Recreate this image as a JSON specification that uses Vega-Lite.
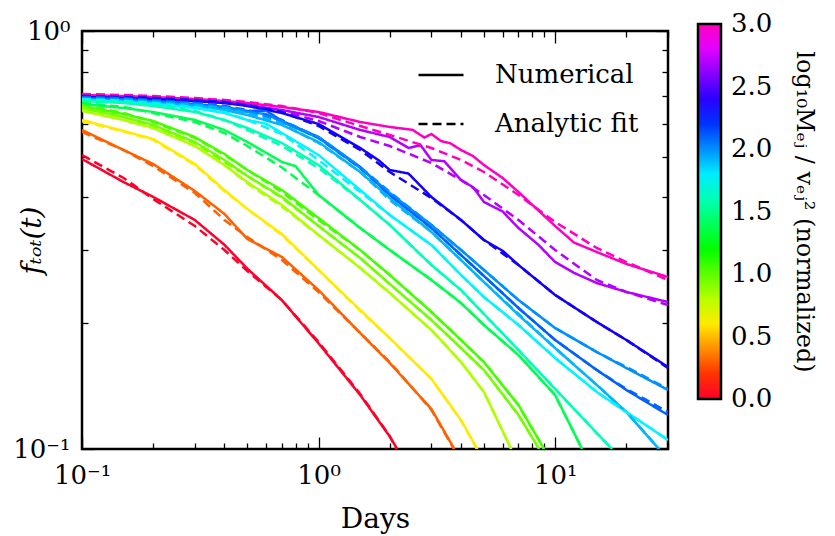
{
"$schema": "https://vega.github.io/schema/vega-lite/v6.json",
"width": 586, "height": 418,
"autosize": {"type": "none"},
"padding": {"left": 82, "top": 31, "right": 167, "bottom": 87},
"background": "white",
"config": {
 "view": {"stroke": "black", "strokeWidth": 2.5},
 "font": "DejaVu Serif",
 "axis": {"domain": false, "grid": false, "tickColor": "black", "labelColor": "black", "titleColor": "black", "labelFont": "DejaVu Serif", "titleFont": "DejaVu Serif", "tickWidth": 1.3},
 "legend": {"labelFont": "DejaVu Serif", "titleFont": "DejaVu Serif", "labelColor": "black", "titleColor": "black"}
},
"data": {"values": [
{"m":3,"kind":"Numerical","days":0.1,"f":0.7029},{"m":3,"kind":"Numerical","days":0.15,"f":0.699},{"m":3,"kind":"Numerical","days":0.2,"f":0.6952},{"m":3,"kind":"Numerical","days":0.3,"f":0.6876},{"m":3,"kind":"Numerical","days":0.4,"f":0.6801},{"m":3,"kind":"Numerical","days":0.5,"f":0.6726},{"m":3,"kind":"Numerical","days":0.7,"f":0.6579},{"m":3,"kind":"Numerical","days":1,"f":0.6401},{"m":3,"kind":"Numerical","days":1.5,"f":0.6058},{"m":3,"kind":"Numerical","days":2,"f":0.5893},{"m":3,"kind":"Numerical","days":2.5,"f":0.58},{"m":3,"kind":"Numerical","days":2.8,"f":0.5560},{"m":3,"kind":"Numerical","days":3,"f":0.567},{"m":3,"kind":"Numerical","days":3.3,"f":0.5450},{"m":3,"kind":"Numerical","days":3.6,"f":0.5390},{"m":3,"kind":"Numerical","days":4,"f":0.5192},{"m":3,"kind":"Numerical","days":4.5,"f":0.5020},{"m":3,"kind":"Numerical","days":5,"f":0.478},{"m":3,"kind":"Numerical","days":6,"f":0.4450},{"m":3,"kind":"Numerical","days":7,"f":0.4119},{"m":3,"kind":"Numerical","days":8.5,"f":0.3720},{"m":3,"kind":"Numerical","days":10,"f":0.3416},{"m":3,"kind":"Numerical","days":12,"f":0.3120},{"m":3,"kind":"Numerical","days":15,"f":0.296},{"m":3,"kind":"Numerical","days":20,"f":0.2771},{"m":3,"kind":"Numerical","days":30,"f":0.2579},
{"m":3,"kind":"Analytic fit","days":0.1,"f":0.7068},{"m":3,"kind":"Analytic fit","days":0.15,"f":0.7029},{"m":3,"kind":"Analytic fit","days":0.2,"f":0.699},{"m":3,"kind":"Analytic fit","days":0.3,"f":0.6914},{"m":3,"kind":"Analytic fit","days":0.4,"f":0.6838},{"m":3,"kind":"Analytic fit","days":0.5,"f":0.6763},{"m":3,"kind":"Analytic fit","days":0.7,"f":0.6616},{"m":3,"kind":"Analytic fit","days":1,"f":0.6365},{"m":3,"kind":"Analytic fit","days":1.5,"f":0.5926},{"m":3,"kind":"Analytic fit","days":2,"f":0.5639},{"m":3,"kind":"Analytic fit","days":3,"f":0.5249},{"m":3,"kind":"Analytic fit","days":4,"f":0.4914},{"m":3,"kind":"Analytic fit","days":5,"f":0.4599},{"m":3,"kind":"Analytic fit","days":7,"f":0.4052},{"m":3,"kind":"Analytic fit","days":10,"f":0.3492},{"m":3,"kind":"Analytic fit","days":15,"f":0.3026},{"m":3,"kind":"Analytic fit","days":20,"f":0.2801},{"m":3,"kind":"Analytic fit","days":30,"f":0.2537},
{"m":2.7,"kind":"Numerical","days":0.1,"f":0.6952},{"m":2.7,"kind":"Numerical","days":0.15,"f":0.6914},{"m":2.7,"kind":"Numerical","days":0.2,"f":0.6876},{"m":2.7,"kind":"Numerical","days":0.3,"f":0.6801},{"m":2.7,"kind":"Numerical","days":0.4,"f":0.6726},{"m":2.7,"kind":"Numerical","days":0.5,"f":0.6652},{"m":2.7,"kind":"Numerical","days":0.7,"f":0.6471},{"m":2.7,"kind":"Numerical","days":1,"f":0.6227},{"m":2.7,"kind":"Numerical","days":1.5,"f":0.5797},{"m":2.7,"kind":"Numerical","days":2,"f":0.5577},{"m":2.7,"kind":"Numerical","days":2.4,"f":0.5250},{"m":2.7,"kind":"Numerical","days":2.7,"f":0.5330},{"m":2.7,"kind":"Numerical","days":3,"f":0.4914},{"m":2.7,"kind":"Numerical","days":3.4,"f":0.4880},{"m":2.7,"kind":"Numerical","days":4,"f":0.4401},{"m":2.7,"kind":"Numerical","days":4.5,"f":0.4230},{"m":2.7,"kind":"Numerical","days":5,"f":0.3899},{"m":2.7,"kind":"Numerical","days":6,"f":0.3700},{"m":2.7,"kind":"Numerical","days":7,"f":0.3378},{"m":2.7,"kind":"Numerical","days":8.5,"f":0.3080},{"m":2.7,"kind":"Numerical","days":10,"f":0.2801},{"m":2.7,"kind":"Numerical","days":12,"f":0.2640},{"m":2.7,"kind":"Numerical","days":15,"f":0.2495},{"m":2.7,"kind":"Numerical","days":20,"f":0.2375},{"m":2.7,"kind":"Numerical","days":30,"f":0.2247},
{"m":2.7,"kind":"Analytic fit","days":0.1,"f":0.699},{"m":2.7,"kind":"Analytic fit","days":0.15,"f":0.6952},{"m":2.7,"kind":"Analytic fit","days":0.2,"f":0.6914},{"m":2.7,"kind":"Analytic fit","days":0.3,"f":0.6838},{"m":2.7,"kind":"Analytic fit","days":0.4,"f":0.6763},{"m":2.7,"kind":"Analytic fit","days":0.5,"f":0.6652},{"m":2.7,"kind":"Analytic fit","days":0.7,"f":0.6436},{"m":2.7,"kind":"Analytic fit","days":1,"f":0.6091},{"m":2.7,"kind":"Analytic fit","days":1.5,"f":0.5577},{"m":2.7,"kind":"Analytic fit","days":2,"f":0.5307},{"m":2.7,"kind":"Analytic fit","days":3,"f":0.4833},{"m":2.7,"kind":"Analytic fit","days":4,"f":0.4401},{"m":2.7,"kind":"Analytic fit","days":5,"f":0.4052},{"m":2.7,"kind":"Analytic fit","days":7,"f":0.3531},{"m":2.7,"kind":"Analytic fit","days":10,"f":0.2993},{"m":2.7,"kind":"Analytic fit","days":15,"f":0.2537},{"m":2.7,"kind":"Analytic fit","days":20,"f":0.2375},{"m":2.7,"kind":"Analytic fit","days":30,"f":0.2211},
{"m":2.35,"kind":"Numerical","days":0.1,"f":0.6952},{"m":2.35,"kind":"Numerical","days":0.15,"f":0.6914},{"m":2.35,"kind":"Numerical","days":0.2,"f":0.6876},{"m":2.35,"kind":"Numerical","days":0.3,"f":0.6801},{"m":2.35,"kind":"Numerical","days":0.4,"f":0.6726},{"m":2.35,"kind":"Numerical","days":0.5,"f":0.6616},{"m":2.35,"kind":"Numerical","days":0.7,"f":0.6365},{"m":2.35,"kind":"Numerical","days":1,"f":0.5991},{"m":2.35,"kind":"Numerical","days":1.5,"f":0.5249},{"m":2.35,"kind":"Numerical","days":1.8,"f":0.4900},{"m":2.35,"kind":"Numerical","days":2,"f":0.465},{"m":2.35,"kind":"Numerical","days":2.4,"f":0.4560},{"m":2.35,"kind":"Numerical","days":3,"f":0.4007},{"m":2.35,"kind":"Numerical","days":4,"f":0.3531},{"m":2.35,"kind":"Numerical","days":5,"f":0.3162},{"m":2.35,"kind":"Numerical","days":6,"f":0.2980},{"m":2.35,"kind":"Numerical","days":7,"f":0.2755},{"m":2.35,"kind":"Numerical","days":10,"f":0.2336},{"m":2.35,"kind":"Numerical","days":15,"f":0.2013},{"m":2.35,"kind":"Numerical","days":20,"f":0.1823},{"m":2.35,"kind":"Numerical","days":30,"f":0.1571},
{"m":2.35,"kind":"Analytic fit","days":0.1,"f":0.699},{"m":2.35,"kind":"Analytic fit","days":0.15,"f":0.6952},{"m":2.35,"kind":"Analytic fit","days":0.2,"f":0.6914},{"m":2.35,"kind":"Analytic fit","days":0.3,"f":0.6838},{"m":2.35,"kind":"Analytic fit","days":0.4,"f":0.6763},{"m":2.35,"kind":"Analytic fit","days":0.5,"f":0.6652},{"m":2.35,"kind":"Analytic fit","days":0.7,"f":0.6401},{"m":2.35,"kind":"Analytic fit","days":1,"f":0.5926},{"m":2.35,"kind":"Analytic fit","days":1.5,"f":0.5192},{"m":2.35,"kind":"Analytic fit","days":2,"f":0.4599},{"m":2.35,"kind":"Analytic fit","days":3,"f":0.3985},{"m":2.35,"kind":"Analytic fit","days":4,"f":0.3531},{"m":2.35,"kind":"Analytic fit","days":5,"f":0.3162},{"m":2.35,"kind":"Analytic fit","days":7,"f":0.2755},{"m":2.35,"kind":"Analytic fit","days":10,"f":0.2336},{"m":2.35,"kind":"Analytic fit","days":15,"f":0.2013},{"m":2.35,"kind":"Analytic fit","days":20,"f":0.1823},{"m":2.35,"kind":"Analytic fit","days":30,"f":0.1562},
{"m":2.1,"kind":"Numerical","days":0.1,"f":0.6914},{"m":2.1,"kind":"Numerical","days":0.15,"f":0.6876},{"m":2.1,"kind":"Numerical","days":0.2,"f":0.6801},{"m":2.1,"kind":"Numerical","days":0.3,"f":0.6689},{"m":2.1,"kind":"Numerical","days":0.4,"f":0.6579},{"m":2.1,"kind":"Numerical","days":0.5,"f":0.6436},{"m":2.1,"kind":"Numerical","days":0.6,"f":0.6450},{"m":2.1,"kind":"Numerical","days":0.7,"f":0.6091},{"m":2.1,"kind":"Numerical","days":1,"f":0.5577},{"m":2.1,"kind":"Numerical","days":1.5,"f":0.4728},{"m":2.1,"kind":"Numerical","days":2,"f":0.4052},{"m":2.1,"kind":"Numerical","days":3,"f":0.3378},{"m":2.1,"kind":"Numerical","days":4,"f":0.2911},{"m":2.1,"kind":"Numerical","days":5,"f":0.2594},{"m":2.1,"kind":"Numerical","days":7,"f":0.2174},{"m":2.1,"kind":"Numerical","days":10,"f":0.1823},{"m":2.1,"kind":"Numerical","days":15,"f":0.1545},{"m":2.1,"kind":"Numerical","days":20,"f":0.1384},{"m":2.1,"kind":"Numerical","days":30,"f":0.1206},
{"m":2.1,"kind":"Analytic fit","days":0.1,"f":0.6952},{"m":2.1,"kind":"Analytic fit","days":0.15,"f":0.6914},{"m":2.1,"kind":"Analytic fit","days":0.2,"f":0.6838},{"m":2.1,"kind":"Analytic fit","days":0.3,"f":0.6726},{"m":2.1,"kind":"Analytic fit","days":0.4,"f":0.6616},{"m":2.1,"kind":"Analytic fit","days":0.5,"f":0.6471},{"m":2.1,"kind":"Analytic fit","days":0.7,"f":0.6125},{"m":2.1,"kind":"Analytic fit","days":1,"f":0.5547},{"m":2.1,"kind":"Analytic fit","days":1.5,"f":0.4702},{"m":2.1,"kind":"Analytic fit","days":2,"f":0.4052},{"m":2.1,"kind":"Analytic fit","days":3,"f":0.3378},{"m":2.1,"kind":"Analytic fit","days":4,"f":0.2911},{"m":2.1,"kind":"Analytic fit","days":5,"f":0.2594},{"m":2.1,"kind":"Analytic fit","days":7,"f":0.2174},{"m":2.1,"kind":"Analytic fit","days":10,"f":0.1823},{"m":2.1,"kind":"Analytic fit","days":15,"f":0.1545},{"m":2.1,"kind":"Analytic fit","days":20,"f":0.1392},{"m":2.1,"kind":"Analytic fit","days":30,"f":0.1226},
{"m":2,"kind":"Numerical","days":0.1,"f":0.6876},{"m":2,"kind":"Numerical","days":0.15,"f":0.6838},{"m":2,"kind":"Numerical","days":0.2,"f":0.6763},{"m":2,"kind":"Numerical","days":0.3,"f":0.6652},{"m":2,"kind":"Numerical","days":0.4,"f":0.6543},{"m":2,"kind":"Numerical","days":0.5,"f":0.6401},{"m":2,"kind":"Numerical","days":0.6,"f":0.6330},{"m":2,"kind":"Numerical","days":0.7,"f":0.6058},{"m":2,"kind":"Numerical","days":1,"f":0.5547},{"m":2,"kind":"Numerical","days":1.5,"f":0.4702},{"m":2,"kind":"Numerical","days":2,"f":0.4097},{"m":2,"kind":"Numerical","days":3,"f":0.3435},{"m":2,"kind":"Numerical","days":4,"f":0.2993},{"m":2,"kind":"Numerical","days":5,"f":0.2681},{"m":2,"kind":"Numerical","days":7,"f":0.2272},{"m":2,"kind":"Numerical","days":10,"f":0.1947},{"m":2,"kind":"Numerical","days":15,"f":0.1706},{"m":2,"kind":"Numerical","days":20,"f":0.1562},{"m":2,"kind":"Numerical","days":30,"f":0.1384},
{"m":2,"kind":"Analytic fit","days":0.1,"f":0.6914},{"m":2,"kind":"Analytic fit","days":0.15,"f":0.6876},{"m":2,"kind":"Analytic fit","days":0.2,"f":0.6801},{"m":2,"kind":"Analytic fit","days":0.3,"f":0.6689},{"m":2,"kind":"Analytic fit","days":0.4,"f":0.6579},{"m":2,"kind":"Analytic fit","days":0.5,"f":0.6436},{"m":2,"kind":"Analytic fit","days":0.7,"f":0.6091},{"m":2,"kind":"Analytic fit","days":1,"f":0.5577},{"m":2,"kind":"Analytic fit","days":1.5,"f":0.4728},{"m":2,"kind":"Analytic fit","days":2,"f":0.4119},{"m":2,"kind":"Analytic fit","days":3,"f":0.3435},{"m":2,"kind":"Analytic fit","days":4,"f":0.2993},{"m":2,"kind":"Analytic fit","days":5,"f":0.2681},{"m":2,"kind":"Analytic fit","days":7,"f":0.2272},{"m":2,"kind":"Analytic fit","days":10,"f":0.1947},{"m":2,"kind":"Analytic fit","days":15,"f":0.1706},{"m":2,"kind":"Analytic fit","days":20,"f":0.1571},{"m":2,"kind":"Analytic fit","days":30,"f":0.1392},
{"m":1.92,"kind":"Numerical","days":0.1,"f":0.6838},{"m":1.92,"kind":"Numerical","days":0.15,"f":0.6801},{"m":1.92,"kind":"Numerical","days":0.2,"f":0.6726},{"m":1.92,"kind":"Numerical","days":0.3,"f":0.6616},{"m":1.92,"kind":"Numerical","days":0.4,"f":0.6471},{"m":1.92,"kind":"Numerical","days":0.5,"f":0.6296},{"m":1.92,"kind":"Numerical","days":0.7,"f":0.5958},{"m":1.92,"kind":"Numerical","days":1,"f":0.5426},{"m":1.92,"kind":"Numerical","days":1.5,"f":0.4599},{"m":1.92,"kind":"Numerical","days":2,"f":0.3985},{"m":1.92,"kind":"Numerical","days":3,"f":0.3305},{"m":1.92,"kind":"Numerical","days":4,"f":0.2832},{"m":1.92,"kind":"Numerical","days":5,"f":0.2509},{"m":1.92,"kind":"Numerical","days":7,"f":0.2092},{"m":1.92,"kind":"Numerical","days":10,"f":0.1744},{"m":1.92,"kind":"Numerical","days":15,"f":0.1423},{"m":1.92,"kind":"Numerical","days":20,"f":0.1226},{"m":1.92,"kind":"Numerical","days":27.5,"f":0.1},
{"m":1.92,"kind":"Analytic fit","days":0.1,"f":0.6876},{"m":1.92,"kind":"Analytic fit","days":0.15,"f":0.6838},{"m":1.92,"kind":"Analytic fit","days":0.2,"f":0.6763},{"m":1.92,"kind":"Analytic fit","days":0.3,"f":0.6652},{"m":1.92,"kind":"Analytic fit","days":0.4,"f":0.6543},{"m":1.92,"kind":"Analytic fit","days":0.5,"f":0.6365},{"m":1.92,"kind":"Analytic fit","days":0.7,"f":0.5991},{"m":1.92,"kind":"Analytic fit","days":1,"f":0.5396},{"m":1.92,"kind":"Analytic fit","days":1.5,"f":0.4599},{"m":1.92,"kind":"Analytic fit","days":2,"f":0.3942},{"m":1.92,"kind":"Analytic fit","days":3,"f":0.3305},{"m":1.92,"kind":"Analytic fit","days":4,"f":0.2832},{"m":1.92,"kind":"Analytic fit","days":5,"f":0.2509},{"m":1.92,"kind":"Analytic fit","days":7,"f":0.2104},{"m":1.92,"kind":"Analytic fit","days":10,"f":0.1744},{"m":1.92,"kind":"Analytic fit","days":15,"f":0.1423},{"m":1.92,"kind":"Analytic fit","days":20,"f":0.1226},{"m":1.92,"kind":"Analytic fit","days":27.5,"f":0.1},
{"m":1.78,"kind":"Numerical","days":0.1,"f":0.6838},{"m":1.78,"kind":"Numerical","days":0.15,"f":0.6763},{"m":1.78,"kind":"Numerical","days":0.2,"f":0.6689},{"m":1.78,"kind":"Numerical","days":0.3,"f":0.6543},{"m":1.78,"kind":"Numerical","days":0.4,"f":0.6365},{"m":1.78,"kind":"Numerical","days":0.5,"f":0.6125},{"m":1.78,"kind":"Numerical","days":0.6,"f":0.6000},{"m":1.78,"kind":"Numerical","days":0.7,"f":0.5701},{"m":1.78,"kind":"Numerical","days":1,"f":0.5051},{"m":1.78,"kind":"Numerical","days":1.5,"f":0.4165},{"m":1.78,"kind":"Numerical","days":2,"f":0.3629},{"m":1.78,"kind":"Numerical","days":3,"f":0.3076},{"m":1.78,"kind":"Numerical","days":4,"f":0.2608},{"m":1.78,"kind":"Numerical","days":5,"f":0.231},{"m":1.78,"kind":"Numerical","days":7,"f":0.198},{"m":1.78,"kind":"Numerical","days":10,"f":0.1651},{"m":1.78,"kind":"Numerical","days":15,"f":0.1369},{"m":1.78,"kind":"Numerical","days":20,"f":0.1226},{"m":1.78,"kind":"Numerical","days":30,"f":0.1051},
{"m":1.78,"kind":"Analytic fit","days":0.1,"f":0.6876},{"m":1.78,"kind":"Analytic fit","days":0.15,"f":0.6801},{"m":1.78,"kind":"Analytic fit","days":0.2,"f":0.6726},{"m":1.78,"kind":"Analytic fit","days":0.3,"f":0.6579},{"m":1.78,"kind":"Analytic fit","days":0.4,"f":0.6401},{"m":1.78,"kind":"Analytic fit","days":0.5,"f":0.6125},{"m":1.78,"kind":"Analytic fit","days":0.7,"f":0.567},{"m":1.78,"kind":"Analytic fit","days":1,"f":0.4914},{"m":1.78,"kind":"Analytic fit","days":1.5,"f":0.4119},{"m":1.78,"kind":"Analytic fit","days":2,"f":0.3629},{"m":1.78,"kind":"Analytic fit","days":3,"f":0.3076},{"m":1.78,"kind":"Analytic fit","days":4,"f":0.2608},{"m":1.78,"kind":"Analytic fit","days":5,"f":0.231},{"m":1.78,"kind":"Analytic fit","days":7,"f":0.198},{"m":1.78,"kind":"Analytic fit","days":10,"f":0.1651},{"m":1.78,"kind":"Analytic fit","days":15,"f":0.1369},{"m":1.78,"kind":"Analytic fit","days":20,"f":0.1226},{"m":1.78,"kind":"Analytic fit","days":30,"f":0.1051},
{"m":1.6,"kind":"Numerical","days":0.1,"f":0.6801},{"m":1.6,"kind":"Numerical","days":0.15,"f":0.6726},{"m":1.6,"kind":"Numerical","days":0.2,"f":0.6616},{"m":1.6,"kind":"Numerical","days":0.3,"f":0.6401},{"m":1.6,"kind":"Numerical","days":0.4,"f":0.6125},{"m":1.6,"kind":"Numerical","days":0.5,"f":0.5861},{"m":1.6,"kind":"Numerical","days":0.7,"f":0.5396},{"m":1.6,"kind":"Numerical","days":1,"f":0.478},{"m":1.6,"kind":"Numerical","days":1.5,"f":0.3942},{"m":1.6,"kind":"Numerical","days":2,"f":0.3435},{"m":1.6,"kind":"Numerical","days":3,"f":0.2755},{"m":1.6,"kind":"Numerical","days":4,"f":0.2401},{"m":1.6,"kind":"Numerical","days":5,"f":0.2104},{"m":1.6,"kind":"Numerical","days":7,"f":0.1725},{"m":1.6,"kind":"Numerical","days":10,"f":0.1392},{"m":1.6,"kind":"Numerical","days":15,"f":0.1092},{"m":1.6,"kind":"Numerical","days":17.4,"f":0.1},
{"m":1.6,"kind":"Analytic fit","days":0.1,"f":0.6838},{"m":1.6,"kind":"Analytic fit","days":0.15,"f":0.6763},{"m":1.6,"kind":"Analytic fit","days":0.2,"f":0.6652},{"m":1.6,"kind":"Analytic fit","days":0.3,"f":0.6436},{"m":1.6,"kind":"Analytic fit","days":0.4,"f":0.6125},{"m":1.6,"kind":"Analytic fit","days":0.5,"f":0.5797},{"m":1.6,"kind":"Analytic fit","days":0.7,"f":0.5307},{"m":1.6,"kind":"Analytic fit","days":1,"f":0.4702},{"m":1.6,"kind":"Analytic fit","days":1.5,"f":0.3942},{"m":1.6,"kind":"Analytic fit","days":2,"f":0.3435},{"m":1.6,"kind":"Analytic fit","days":3,"f":0.2755},{"m":1.6,"kind":"Analytic fit","days":4,"f":0.2401},{"m":1.6,"kind":"Analytic fit","days":5,"f":0.2104},{"m":1.6,"kind":"Analytic fit","days":7,"f":0.1725},{"m":1.6,"kind":"Analytic fit","days":10,"f":0.1392},{"m":1.6,"kind":"Analytic fit","days":15,"f":0.1092},{"m":1.6,"kind":"Analytic fit","days":17.4,"f":0.1},
{"m":1.38,"kind":"Numerical","days":0.1,"f":0.6689},{"m":1.38,"kind":"Numerical","days":0.15,"f":0.6543},{"m":1.38,"kind":"Numerical","days":0.2,"f":0.6401},{"m":1.38,"kind":"Numerical","days":0.3,"f":0.6125},{"m":1.38,"kind":"Numerical","days":0.4,"f":0.5797},{"m":1.38,"kind":"Numerical","days":0.5,"f":0.5426},{"m":1.38,"kind":"Numerical","days":0.7,"f":0.486},{"m":1.38,"kind":"Numerical","days":0.8,"f":0.4750},{"m":1.38,"kind":"Numerical","days":1,"f":0.4052},{"m":1.38,"kind":"Numerical","days":1.5,"f":0.3378},{"m":1.38,"kind":"Numerical","days":2,"f":0.2993},{"m":1.38,"kind":"Numerical","days":3,"f":0.2537},{"m":1.38,"kind":"Numerical","days":4,"f":0.2235},{"m":1.38,"kind":"Numerical","days":5,"f":0.198},{"m":1.38,"kind":"Numerical","days":7,"f":0.1678},{"m":1.38,"kind":"Numerical","days":10,"f":0.1346},{"m":1.38,"kind":"Numerical","days":13,"f":0.1},
{"m":1.38,"kind":"Analytic fit","days":0.1,"f":0.6726},{"m":1.38,"kind":"Analytic fit","days":0.15,"f":0.6579},{"m":1.38,"kind":"Analytic fit","days":0.2,"f":0.6365},{"m":1.38,"kind":"Analytic fit","days":0.3,"f":0.6058},{"m":1.38,"kind":"Analytic fit","days":0.4,"f":0.5701},{"m":1.38,"kind":"Analytic fit","days":0.5,"f":0.5307},{"m":1.38,"kind":"Analytic fit","days":0.7,"f":0.4714},{"m":1.38,"kind":"Analytic fit","days":1,"f":0.4052},{"m":1.38,"kind":"Analytic fit","days":1.5,"f":0.3378},{"m":1.38,"kind":"Analytic fit","days":2,"f":0.2993},{"m":1.38,"kind":"Analytic fit","days":3,"f":0.2537},{"m":1.38,"kind":"Analytic fit","days":4,"f":0.2235},{"m":1.38,"kind":"Analytic fit","days":5,"f":0.198},{"m":1.38,"kind":"Analytic fit","days":7,"f":0.1678},{"m":1.38,"kind":"Analytic fit","days":10,"f":0.1346},{"m":1.38,"kind":"Analytic fit","days":13,"f":0.1},
{"m":1.05,"kind":"Numerical","days":0.1,"f":0.6616},{"m":1.05,"kind":"Numerical","days":0.15,"f":0.633},{"m":1.05,"kind":"Numerical","days":0.2,"f":0.6092},{"m":1.05,"kind":"Numerical","days":0.3,"f":0.5576},{"m":1.05,"kind":"Numerical","days":0.4,"f":0.5078},{"m":1.05,"kind":"Numerical","days":0.5,"f":0.465},{"m":1.05,"kind":"Numerical","days":0.7,"f":0.4165},{"m":1.05,"kind":"Numerical","days":1,"f":0.3569},{"m":1.05,"kind":"Numerical","days":1.5,"f":0.2992},{"m":1.05,"kind":"Numerical","days":2,"f":0.2608},{"m":1.05,"kind":"Numerical","days":3,"f":0.2127},{"m":1.05,"kind":"Numerical","days":4,"f":0.1823},{"m":1.05,"kind":"Numerical","days":5,"f":0.1615},{"m":1.05,"kind":"Numerical","days":7,"f":0.1274},{"m":1.05,"kind":"Numerical","days":8.98,"f":0.1},
{"m":1.05,"kind":"Analytic fit","days":0.1,"f":0.6652},{"m":1.05,"kind":"Analytic fit","days":0.15,"f":0.6365},{"m":1.05,"kind":"Analytic fit","days":0.2,"f":0.6058},{"m":1.05,"kind":"Analytic fit","days":0.3,"f":0.5547},{"m":1.05,"kind":"Analytic fit","days":0.4,"f":0.5051},{"m":1.05,"kind":"Analytic fit","days":0.5,"f":0.465},{"m":1.05,"kind":"Analytic fit","days":0.7,"f":0.4119},{"m":1.05,"kind":"Analytic fit","days":1,"f":0.3531},{"m":1.05,"kind":"Analytic fit","days":1.5,"f":0.2992},{"m":1.05,"kind":"Analytic fit","days":2,"f":0.2608},{"m":1.05,"kind":"Analytic fit","days":3,"f":0.2127},{"m":1.05,"kind":"Analytic fit","days":4,"f":0.1823},{"m":1.05,"kind":"Analytic fit","days":5,"f":0.1615},{"m":1.05,"kind":"Analytic fit","days":7,"f":0.1274},{"m":1.05,"kind":"Analytic fit","days":8.98,"f":0.1},
{"m":0.95,"kind":"Numerical","days":0.1,"f":0.6544},{"m":0.95,"kind":"Numerical","days":0.15,"f":0.6227},{"m":0.95,"kind":"Numerical","days":0.2,"f":0.5958},{"m":0.95,"kind":"Numerical","days":0.3,"f":0.5425},{"m":0.95,"kind":"Numerical","days":0.4,"f":0.4914},{"m":0.95,"kind":"Numerical","days":0.5,"f":0.4499},{"m":0.95,"kind":"Numerical","days":0.7,"f":0.401},{"m":0.95,"kind":"Numerical","days":1,"f":0.3416},{"m":0.95,"kind":"Numerical","days":1.5,"f":0.2864},{"m":0.95,"kind":"Numerical","days":2,"f":0.2481},{"m":0.95,"kind":"Numerical","days":3,"f":0.2035},{"m":0.95,"kind":"Numerical","days":4,"f":0.1744},{"m":0.95,"kind":"Numerical","days":5,"f":0.1545},{"m":0.95,"kind":"Numerical","days":7,"f":0.1206},{"m":0.95,"kind":"Numerical","days":8.56,"f":0.1},
{"m":0.95,"kind":"Analytic fit","days":0.1,"f":0.6579},{"m":0.95,"kind":"Analytic fit","days":0.15,"f":0.6227},{"m":0.95,"kind":"Analytic fit","days":0.2,"f":0.5926},{"m":0.95,"kind":"Analytic fit","days":0.3,"f":0.5396},{"m":0.95,"kind":"Analytic fit","days":0.4,"f":0.486},{"m":0.95,"kind":"Analytic fit","days":0.5,"f":0.4499},{"m":0.95,"kind":"Analytic fit","days":0.7,"f":0.3985},{"m":0.95,"kind":"Analytic fit","days":1,"f":0.3416},{"m":0.95,"kind":"Analytic fit","days":1.5,"f":0.2864},{"m":0.95,"kind":"Analytic fit","days":2,"f":0.2481},{"m":0.95,"kind":"Analytic fit","days":3,"f":0.2035},{"m":0.95,"kind":"Analytic fit","days":4,"f":0.1744},{"m":0.95,"kind":"Analytic fit","days":5,"f":0.1545},{"m":0.95,"kind":"Analytic fit","days":7,"f":0.1206},{"m":0.95,"kind":"Analytic fit","days":8.56,"f":0.1},
{"m":0.82,"kind":"Numerical","days":0.1,"f":0.6436},{"m":0.82,"kind":"Numerical","days":0.15,"f":0.6125},{"m":0.82,"kind":"Numerical","days":0.2,"f":0.586},{"m":0.82,"kind":"Numerical","days":0.3,"f":0.5308},{"m":0.82,"kind":"Numerical","days":0.4,"f":0.4779},{"m":0.82,"kind":"Numerical","days":0.5,"f":0.435},{"m":0.82,"kind":"Numerical","days":0.7,"f":0.3835},{"m":0.82,"kind":"Numerical","days":1,"f":0.3251},{"m":0.82,"kind":"Numerical","days":1.5,"f":0.2711},{"m":0.82,"kind":"Numerical","days":2,"f":0.2361},{"m":0.82,"kind":"Numerical","days":3,"f":0.1926},{"m":0.82,"kind":"Numerical","days":4,"f":0.1615},{"m":0.82,"kind":"Numerical","days":5,"f":0.1369},{"m":0.82,"kind":"Numerical","days":6.52,"f":0.1},
{"m":0.82,"kind":"Analytic fit","days":0.1,"f":0.6471},{"m":0.82,"kind":"Analytic fit","days":0.15,"f":0.6125},{"m":0.82,"kind":"Analytic fit","days":0.2,"f":0.5861},{"m":0.82,"kind":"Analytic fit","days":0.3,"f":0.5307},{"m":0.82,"kind":"Analytic fit","days":0.4,"f":0.478},{"m":0.82,"kind":"Analytic fit","days":0.5,"f":0.432},{"m":0.82,"kind":"Analytic fit","days":0.7,"f":0.38},{"m":0.82,"kind":"Analytic fit","days":1,"f":0.3251},{"m":0.82,"kind":"Analytic fit","days":1.5,"f":0.2711},{"m":0.82,"kind":"Analytic fit","days":2,"f":0.2361},{"m":0.82,"kind":"Analytic fit","days":3,"f":0.1926},{"m":0.82,"kind":"Analytic fit","days":4,"f":0.1615},{"m":0.82,"kind":"Analytic fit","days":5,"f":0.1369},{"m":0.82,"kind":"Analytic fit","days":6.52,"f":0.1},
{"m":0.6,"kind":"Numerical","days":0.1,"f":0.6125},{"m":0.6,"kind":"Numerical","days":0.15,"f":0.5764},{"m":0.6,"kind":"Numerical","days":0.2,"f":0.5515},{"m":0.6,"kind":"Numerical","days":0.3,"f":0.4806},{"m":0.6,"kind":"Numerical","days":0.4,"f":0.4165},{"m":0.6,"kind":"Numerical","days":0.5,"f":0.3751},{"m":0.6,"kind":"Numerical","days":0.7,"f":0.3269},{"m":0.6,"kind":"Numerical","days":1,"f":0.2681},{"m":0.6,"kind":"Numerical","days":1.5,"f":0.215},{"m":0.6,"kind":"Numerical","days":2,"f":0.1843},{"m":0.6,"kind":"Numerical","days":3,"f":0.1471},{"m":0.6,"kind":"Numerical","days":4,"f":0.1173},{"m":0.6,"kind":"Numerical","days":4.69,"f":0.1},
{"m":0.6,"kind":"Analytic fit","days":0.1,"f":0.608},{"m":0.6,"kind":"Analytic fit","days":0.15,"f":0.575},{"m":0.6,"kind":"Analytic fit","days":0.2,"f":0.549},{"m":0.6,"kind":"Analytic fit","days":0.3,"f":0.478},{"m":0.6,"kind":"Analytic fit","days":0.4,"f":0.414},{"m":0.6,"kind":"Analytic fit","days":0.5,"f":0.375},{"m":0.6,"kind":"Analytic fit","days":0.7,"f":0.325},{"m":0.6,"kind":"Analytic fit","days":1,"f":0.268},{"m":0.6,"kind":"Analytic fit","days":1.5,"f":0.214},{"m":0.6,"kind":"Analytic fit","days":2,"f":0.184},{"m":0.6,"kind":"Analytic fit","days":3,"f":0.147},{"m":0.6,"kind":"Analytic fit","days":4,"f":0.117},{"m":0.6,"kind":"Analytic fit","days":4.67,"f":0.1},
{"m":0.3,"kind":"Numerical","days":0.1,"f":0.5797},{"m":0.3,"kind":"Numerical","days":0.15,"f":0.5191},{"m":0.3,"kind":"Numerical","days":0.2,"f":0.4806},{"m":0.3,"kind":"Numerical","days":0.3,"f":0.4142},{"m":0.3,"kind":"Numerical","days":0.4,"f":0.365},{"m":0.3,"kind":"Numerical","days":0.5,"f":0.318},{"m":0.3,"kind":"Numerical","days":0.7,"f":0.288},{"m":0.3,"kind":"Numerical","days":1,"f":0.24},{"m":0.3,"kind":"Numerical","days":1.5,"f":0.1894},{"m":0.3,"kind":"Numerical","days":2,"f":0.1606},{"m":0.3,"kind":"Numerical","days":3,"f":0.1246},{"m":0.3,"kind":"Numerical","days":3.75,"f":0.1},
{"m":0.3,"kind":"Analytic fit","days":0.1,"f":0.5733},{"m":0.3,"kind":"Analytic fit","days":0.15,"f":0.519},{"m":0.3,"kind":"Analytic fit","days":0.2,"f":0.4753},{"m":0.3,"kind":"Analytic fit","days":0.3,"f":0.4097},{"m":0.3,"kind":"Analytic fit","days":0.4,"f":0.353},{"m":0.3,"kind":"Analytic fit","days":0.5,"f":0.3214},{"m":0.3,"kind":"Analytic fit","days":0.7,"f":0.2833},{"m":0.3,"kind":"Analytic fit","days":1,"f":0.2374},{"m":0.3,"kind":"Analytic fit","days":1.5,"f":0.1894},{"m":0.3,"kind":"Analytic fit","days":2,"f":0.1615},{"m":0.3,"kind":"Analytic fit","days":3,"f":0.124},{"m":0.3,"kind":"Analytic fit","days":3.73,"f":0.1},
{"m":0,"kind":"Numerical","days":0.1,"f":0.494},{"m":0,"kind":"Numerical","days":0.15,"f":0.435},{"m":0,"kind":"Numerical","days":0.2,"f":0.401},{"m":0,"kind":"Numerical","days":0.3,"f":0.353},{"m":0,"kind":"Numerical","days":0.4,"f":0.308},{"m":0,"kind":"Numerical","days":0.5,"f":0.27},{"m":0,"kind":"Numerical","days":0.7,"f":0.227},{"m":0,"kind":"Numerical","days":1,"f":0.179},{"m":0,"kind":"Numerical","days":1.5,"f":0.1346},{"m":0,"kind":"Numerical","days":2,"f":0.1071},{"m":0,"kind":"Numerical","days":2.15,"f":0.1},
{"m":0,"kind":"Analytic fit","days":0.1,"f":0.505},{"m":0,"kind":"Analytic fit","days":0.15,"f":0.445},{"m":0,"kind":"Analytic fit","days":0.2,"f":0.3963},{"m":0,"kind":"Analytic fit","days":0.3,"f":0.3416},{"m":0,"kind":"Analytic fit","days":0.4,"f":0.2992},{"m":0,"kind":"Analytic fit","days":0.5,"f":0.2666},{"m":0,"kind":"Analytic fit","days":0.7,"f":0.227},{"m":0,"kind":"Analytic fit","days":1,"f":0.1803},{"m":0,"kind":"Analytic fit","days":1.5,"f":0.1354},{"m":0,"kind":"Analytic fit","days":2,"f":0.1074},{"m":0,"kind":"Analytic fit","days":2.13,"f":0.1}
]},
"layer": [
 {
  "transform": [{"filter": "datum.kind == 'Numerical'"}],
  "mark": {"type": "line", "strokeWidth": 2.5, "clip": true},
  "encoding": {
   "x": {"field": "days", "type": "quantitative",
     "scale": {"type": "log", "domain": [0.1, 30], "nice": false},
     "axis": {"orient": "bottom", "values": [0.1,0.2,0.3,0.4,0.5,0.6,0.7,0.8,0.9,1,2,3,4,5,6,7,8,9,10,20,30],
       "labelExpr": "datum.value == 0.1 ? '10⁻¹' : datum.value == 1 ? '10⁰' : datum.value == 10 ? '10¹' : ''",
       "tickSize": {"condition": {"test": "datum.value == 0.1 || datum.value == 1 || datum.value == 10", "value": -12}, "value": -6},
       "labelFontSize": 26, "labelPadding": 25, "labelFlush": false, "labelOverlap": false,
       "title": "Days", "titleFontSize": 28, "titleFontWeight": "normal", "titleX": 293, "titleY": 70, "titleBaseline": "middle"}},
   "y": {"field": "f", "type": "quantitative",
     "scale": {"type": "log", "domain": [0.1, 1], "nice": false},
     "axis": {"orient": "left", "values": [0.1,0.2,0.3,0.4,0.5,0.6,0.7,0.8,0.9,1],
       "labelExpr": "datum.value == 0.1 ? '10⁻¹' : datum.value == 1 ? '10⁰' : ''",
       "tickSize": {"condition": {"test": "datum.value == 0.1 || datum.value == 1", "value": -12}, "value": -6},
       "labelFontSize": 26, "labelPadding": 24, "labelFlush": false, "labelOverlap": false,
       "title": "fₜₒₜ(t)", "titleFontSize": 28, "titleFontWeight": "normal", "titleFontStyle": "italic",
       "titleX": -50, "titleY": 209, "titleAngle": -90, "titleAlign": "center", "titleBaseline": "middle"}},
   "color": {"field": "m", "type": "quantitative",
     "scale": {"domain": [0, 0.09, 0.645, 1.2, 1.758, 2.31, 2.862, 3.0], "range": ["#ff0029", "#ff0000", "#ffff00", "#00ff00", "#00ffff", "#0000ff", "#ff00ff", "#ff00bf"], "interpolate": "rgb"},
     "legend": {"orient": "none", "legendX": 616, "legendY": -7, "direction": "vertical", "gradientLength": 375, "gradientThickness": 23,
       "gradientStrokeColor": "black", "gradientStrokeWidth": 2.5, "values": [0, 0.5, 1, 1.5, 2, 2.5, 3], "format": ".1f",
       "labelFontSize": 26, "labelOffset": 10, "labelOverlap": false, "labelBaseline": "middle", "padding": 0,
       "encode": {"labels": {"update": {"baseline": {"value": "middle"}}}},
       "title": "log₁₀Mₑⱼ / vₑⱼ² (normalized)", "titleLimit": 500, "titleOrient": "right", "titleAngle": 90, "titleAnchor": "middle", "titleFontSize": 24, "titleFontWeight": "normal", "titlePadding": 20, "titleBaseline": "bottom"}},
   "strokeDash": {"field": "kind", "type": "nominal",
     "scale": {"domain": ["Numerical", "Analytic fit"], "range": [[1, 0], [9, 5]]},
     "legend": {"orient": "none", "legendX": 335, "legendY": 20, "title": null, "symbolType": "stroke", "symbolSize": 2025,
       "symbolStrokeWidth": 2.5, "symbolStrokeColor": "black", "labelFontSize": 26, "labelOffset": 30, "rowPadding": 12, "padding": 0}},
   "detail": {"field": "m", "type": "quantitative"}
  }
 },
 {
  "transform": [{"filter": "datum.kind == 'Analytic fit'"}],
  "mark": {"type": "line", "strokeWidth": 2.5, "clip": true},
  "encoding": {
   "x": {"field": "days", "type": "quantitative",
     "axis": {"orient": "top", "values": [0.1,0.2,0.3,0.4,0.5,0.6,0.7,0.8,0.9,1,2,3,4,5,6,7,8,9,10,20,30], "labels": false, "title": null,
       "tickSize": {"condition": {"test": "datum.value == 0.1 || datum.value == 1 || datum.value == 10", "value": -12}, "value": -6}}},
   "y": {"field": "f", "type": "quantitative",
     "axis": {"orient": "right", "values": [0.1,0.2,0.3,0.4,0.5,0.6,0.7,0.8,0.9,1], "labels": false, "title": null,
       "tickSize": {"condition": {"test": "datum.value == 0.1 || datum.value == 1", "value": -12}, "value": -6}}},
   "color": {"field": "m", "type": "quantitative"},
   "strokeDash": {"field": "kind", "type": "nominal"},
   "detail": {"field": "m", "type": "quantitative"}
  }
 }
],
"resolve": {"axis": {"x": "independent", "y": "independent"}}
}
